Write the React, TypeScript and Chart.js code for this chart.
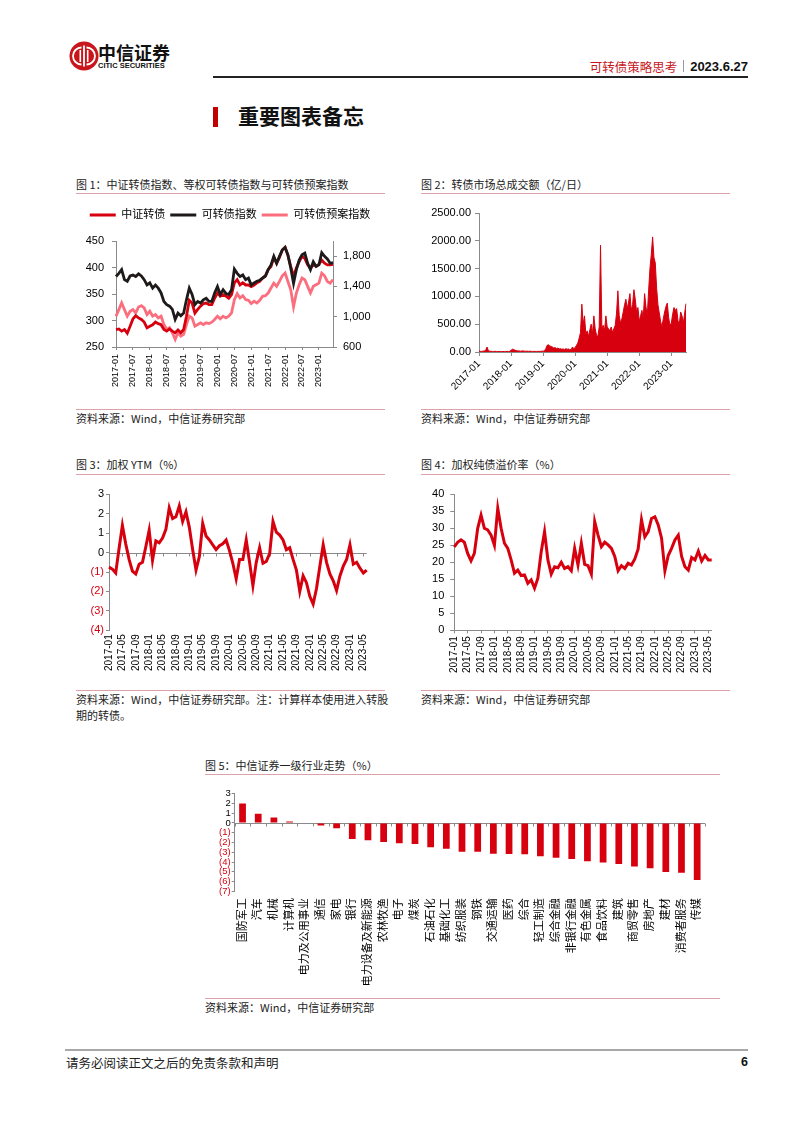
import React, { useEffect, useRef } from 'react';
import { Chart, registerables } from 'chart.js';

Chart.register(...registerables);

const FONT = "'Liberation Sans', 'Noto Sans CJK SC', sans-serif";
const CJK = "'Noto Sans CJK SC', 'Liberation Sans', sans-serif";
const RED = '#d7000f';
const BLACK = '#1f1a1a';
const PINK = '#fb6e7e';
const AXIS = '#8a8a8a';
const RULE = '#dba2a9';

Chart.defaults.font.family = FONT;
Chart.defaults.color = '#000';

// ---------- categories ----------
const MONTHS: string[] = [];
for (let y = 2017; y <= 2023; y++) {
  for (let m = 1; m <= 12; m++) {
    if (y === 2023 && m > 6) break;
    MONTHS.push(`${y}-${String(m).padStart(2, '0')}`);
  }
}
const HALF_MONTHS: string[] = MONTHS.flatMap((m) => [`${m}-01`, `${m}-16`]);

const FIG1_TICKS = ['2017-01', '2017-07', '2018-01', '2018-07', '2019-01', '2019-07', '2020-01', '2020-07', '2021-01', '2021-07', '2022-01', '2022-07', '2023-01'];
const FIG2_TICKS = ['2017-01', '2018-01', '2019-01', '2020-01', '2021-01', '2022-01', '2023-01'];
const FIG34_TICKS = ['2017-01', '2017-05', '2017-09', '2018-01', '2018-05', '2018-09', '2019-01', '2019-05', '2019-09', '2020-01', '2020-05', '2020-09', '2021-01', '2021-05', '2021-09', '2022-01', '2022-05', '2022-09', '2023-01', '2023-05'];

// ---------- figure 1 ----------
const CSI_CB = [
  283, 284, 280, 283, 276, 289, 303, 309, 305, 302, 297, 286,
  289, 292, 297, 294, 292, 283, 280, 284, 280, 277, 282, 277,
  283, 308, 338, 333, 314, 321, 327, 332, 333, 330, 330, 342,
  352, 346, 349, 346, 342, 349, 371, 377, 367, 371, 367, 367,
  364, 367, 371, 374, 380, 384, 396, 402, 419, 408, 419, 433,
  438, 423, 402, 383, 399, 411, 421, 417, 405, 399, 405, 402,
  406, 414, 408, 405, 405, 406,
];
const EQ_CB = [
  383, 389, 396, 377, 374, 384, 386, 383, 388, 384, 377, 367,
  371, 361, 367, 361, 352, 336, 330, 327, 321, 302, 314, 309,
  314, 339, 361, 349, 330, 336, 333, 339, 342, 336, 336, 352,
  364, 349, 358, 351, 349, 358, 397, 389, 383, 386, 377, 380,
  367, 371, 374, 376, 380, 384, 396, 405, 421, 408, 421, 433,
  438, 424, 399, 370, 396, 414, 424, 427, 408, 396, 411, 402,
  405, 428, 421, 416, 408, 409,
];
const PLAN_CB = [
  1007, 1094, 1182, 1094, 1007, 1072, 1094, 1051, 1129, 1147, 1116, 1029,
  1072, 1007, 1029, 985, 1007, 897, 832, 854, 788, 700, 788, 744,
  766, 897, 1007, 985, 876, 897, 919, 897, 919, 910, 928, 963,
  1007, 972, 1007, 985, 1007, 1051, 1226, 1304, 1248, 1278, 1226, 1217,
  1173, 1204, 1182, 1217, 1269, 1278, 1313, 1379, 1444, 1401, 1466, 1541,
  1576, 1466, 1357, 1130, 1313, 1422, 1510, 1488, 1401, 1313, 1401, 1422,
  1444, 1576, 1541, 1466, 1444, 1490,
];

// ---------- figure 2 (semi-monthly turnover, 亿元/日) ----------
const TURNOVER = [
  15, 12, 10, 15, 20, 30, 90, 25, 15, 12, 10, 10, 12, 10, 10, 8, 10, 8, 8, 10, 10, 8, 10, 12,
  30, 50, 45, 30, 25, 20, 20, 15, 18, 20, 15, 15, 15, 12, 15, 12, 10, 12, 10, 10, 12, 10, 12, 15,
  15, 20, 60, 120, 130, 110, 100, 90, 70, 80, 60, 70, 55, 60, 50, 55, 45, 60, 50, 55, 40, 45, 90, 60,
  80, 120, 160, 250, 350, 860, 500, 650, 320, 380, 280, 400, 500, 330, 650, 420, 300, 280, 450, 1920, 420, 480, 380, 650,
  450, 420, 380, 450, 350, 420, 480, 700, 1100, 650, 520, 600, 720, 850, 950, 780, 900, 1050, 750, 850, 1120, 950, 720, 800,
  550, 650, 750, 600, 1050, 820, 650, 1100, 1500, 1750, 2070, 1700, 1600, 1150, 850, 700, 550, 450, 600, 720, 820, 880, 620, 480,
  520, 680, 800, 750, 780, 560, 500, 720, 650, 520, 700, 870,
];

// ---------- figure 3 ----------
const YTM = [
  -0.75, -0.85, -1.05, 0.2, 1.4, 0.45, -0.35, -0.95, -1.1, -0.6, -0.5, 0.3,
  1.15, -0.4, 0.6, 0.5, 0.75, 1.2, 2.3, 1.75, 1.85, 2.4, 1.6, 2.1,
  1.3, 0.15, -0.9, -0.2, 1.5, 0.85, 0.65, 0.4, 0.15, 0.35, 0.45, 0.65,
  0.1, -0.55, -1.35, -0.35, -0.35, 0.65, -0.5, -1.7, -0.5, 0.25, -0.55, -0.45,
  -0.05, 1.6, 1.05, 0.9, 0.65, 0.15, 0.25, -0.35, -0.9, -2.0, -1.2, -1.55,
  -2.25, -2.65, -1.85, -0.7, 0.4, -0.5, -1.1, -1.45, -1.95, -1.2, -0.7, -0.35,
  0.4, -0.6, -0.5, -0.8, -1.05, -0.9,
];

// ---------- figure 4 ----------
const BOND_PREMIUM = [
  24.5, 25.9, 26.6, 25.9, 22.6, 20.4, 22.6, 30.0, 33.9, 30.0, 29.5, 28.0,
  25.0, 35.9, 30.0, 25.6, 24.1, 20.7, 16.8, 17.7, 16.1, 16.3, 13.8, 14.8,
  12.4, 15.3, 23.1, 29.0, 20.7, 16.5, 18.7, 18.4, 20.0, 18.2, 18.7, 17.5,
  24.1, 19.2, 25.6, 19.4, 19.0, 16.5, 32.0, 28.0, 24.6, 25.9, 25.1, 24.1,
  21.7, 17.5, 19.0, 18.2, 19.7, 19.2, 21.0, 23.9, 32.5, 27.5, 29.0, 32.9,
  33.4, 31.0, 27.1, 17.5, 22.0, 24.1, 26.6, 28.0, 21.7, 18.7, 17.7, 21.4,
  20.7, 23.3, 20.4, 22.0, 20.7, 20.7,
];

// ---------- figure 5 ----------
const INDUSTRIES = ['国防军工', '汽车', '机械', '计算机', '电力及公用事业', '通信', '家电', '银行', '电力设备及新能源', '农林牧渔', '电子', '煤炭', '石油石化', '基础化工', '纺织服装', '钢铁', '交通运输', '医药', '综合', '轻工制造', '综合金融', '非银行金融', '有色金属', '食品饮料', '建筑', '商贸零售', '房地产', '建材', '消费者服务', '传媒'];
const INDUSTRY_RET = [2.0, 0.95, 0.55, 0.15, 0.05, -0.27, -0.55, -1.64, -1.77, -1.95, -2.08, -2.15, -2.49, -2.63, -2.94, -2.94, -3.14, -3.17, -3.2, -3.41, -3.55, -3.69, -3.92, -4.06, -4.2, -4.47, -4.64, -5.02, -5.09, -5.84];

// ---------- helpers ----------
const negFmt = (v: any) => (Number(v) < 0 ? `(${-Number(v)})` : `${v}`);
const negColor = (ctx: any) => (ctx.tick && ctx.tick.value < 0 ? RED : '#000');

function zeroLine(mode: 'labels' | 'between') {
  return {
    id: 'zeroLine',
    beforeDatasetsDraw(chart: any) {
      const { ctx, chartArea, scales } = chart;
      const x = scales.x;
      const y0 = Math.round(scales.y.getPixelForValue(0)) + 0.5;
      ctx.save();
      ctx.strokeStyle = AXIS;
      ctx.lineWidth = 1;
      ctx.beginPath();
      ctx.moveTo(chartArea.left, y0);
      ctx.lineTo(chartArea.right, y0);
      const n = x.ticks.length;
      if (mode === 'labels') {
        x.ticks.forEach((t: any, i: number) => {
          if (t.label) {
            const px = Math.round(x.getPixelForTick(i)) + 0.5;
            ctx.moveTo(px, y0);
            ctx.lineTo(px, y0 + 3);
          }
        });
      } else {
        for (let i = 0; i <= n; i++) {
          const p = i === 0 ? chartArea.left : i === n ? chartArea.right : (x.getPixelForTick(i - 1) + x.getPixelForTick(i)) / 2;
          const px = Math.round(p) + 0.5;
          ctx.moveTo(px, y0);
          ctx.lineTo(px, y0 + 3);
        }
      }
      ctx.stroke();
      ctx.restore();
    },
  };
}

const base = {
  animation: false,
  responsive: false,
  maintainAspectRatio: false,
  events: [],
  elements: { point: { radius: 0 }, line: { tension: 0 } },
};

function fig1Config(): any {
  return {
    type: 'line',
    data: {
      labels: MONTHS,
      datasets: [
        { label: '中证转债', data: CSI_CB, borderColor: RED, backgroundColor: RED, borderWidth: 2.8, yAxisID: 'y', order: 1 },
        { label: '可转债指数', data: EQ_CB, borderColor: BLACK, backgroundColor: BLACK, borderWidth: 2.8, yAxisID: 'y', order: 0 },
        { label: '可转债预案指数', data: PLAN_CB, borderColor: PINK, backgroundColor: PINK, borderWidth: 2.8, yAxisID: 'y2', order: 2 },
      ],
    },
    options: {
      ...base,
      layout: { padding: { top: 4.5, left: 0, right: 0, bottom: 0 } },
      plugins: {
        tooltip: { enabled: false },
        legend: {
          display: true,
          position: 'top',
          labels: {
            boxWidth: 26,
            boxHeight: 3,
            padding: 5,
            color: '#000',
            font: { size: 11 },
            sort: (a: any, b: any) => a.datasetIndex - b.datasetIndex,
            generateLabels: (chart: any) =>
              (Chart.defaults.plugins.legend.labels as any).generateLabels(chart).map((l: any) => ({ ...l, lineWidth: 0 })),
          },
        },
        title: { display: true, text: ' ', position: 'top', weight: 500, font: { size: 1, lineHeight: 1 }, padding: { top: 9.5, bottom: 0 } },
      },
      scales: {
        x: {
          offset: false,
          grid: { drawOnChartArea: false, tickLength: 3, color: AXIS },
          border: { color: AXIS },
          ticks: {
            autoSkip: false, minRotation: 90, maxRotation: 90, padding: 4, font: { size: 9 }, color: '#000',
            callback: (_v: any, i: number) => (FIG1_TICKS.includes(MONTHS[i]) ? MONTHS[i] : null),
          },
          afterFit: (s: any) => { s.height = 58; },
        },
        y: {
          position: 'left', min: 250, max: 450,
          ticks: { stepSize: 50, padding: 8, font: { size: 11 }, color: '#000' },
          grid: { drawOnChartArea: false, tickLength: 4, color: AXIS },
          border: { color: AXIS },
          afterFit: (s: any) => { s.width = 46; },
        },
        y2: {
          position: 'right', min: 600, max: 2000,
          ticks: { stepSize: 200, padding: 6, font: { size: 11 }, color: '#000' },
          grid: { drawOnChartArea: false, tickLength: 4, color: AXIS },
          border: { color: AXIS },
          afterFit: (s: any) => { s.width = 57; },
        },
      },
    },
  };
}

function fig2Config(): any {
  return {
    type: 'line',
    data: {
      labels: HALF_MONTHS,
      datasets: [{ data: TURNOVER, borderColor: RED, backgroundColor: RED, borderWidth: 1, fill: 'origin' }],
    },
    options: {
      ...base,
      layout: { padding: { top: 13, right: 44, left: 0, bottom: 0 } },
      plugins: { legend: { display: false }, tooltip: { enabled: false } },
      scales: {
        x: {
          offset: false,
          grid: { drawOnChartArea: false, tickLength: 4, color: AXIS },
          border: { color: AXIS },
          ticks: {
            autoSkip: false, minRotation: 45, maxRotation: 45, padding: 2, font: { size: 10 }, color: '#000',
            callback: (_v: any, i: number) => {
              const d = HALF_MONTHS[i];
              return d.endsWith('-01') && FIG2_TICKS.includes(d.slice(0, 7)) ? d.slice(0, 7) : null;
            },
          },
          afterFit: (s: any) => { s.height = 53; },
        },
        y: {
          min: 0, max: 2500,
          ticks: { stepSize: 500, padding: 4, font: { size: 11 }, color: '#000', callback: (v: any) => Number(v).toFixed(2) },
          grid: { drawOnChartArea: false, tickLength: 4, color: AXIS },
          border: { color: AXIS },
          afterFit: (s: any) => { s.width = 69; },
        },
      },
    },
  };
}

function fig3Config(): any {
  return {
    type: 'line',
    data: { labels: MONTHS, datasets: [{ data: YTM, borderColor: RED, borderWidth: 3 }] },
    options: {
      ...base,
      layout: { padding: { top: 14.3, right: 23.3, left: 0, bottom: 0 } },
      plugins: { legend: { display: false }, tooltip: { enabled: false } },
      scales: {
        x: {
          offset: false,
          grid: { display: false, drawTicks: false },
          border: { display: false },
          ticks: {
            autoSkip: false, minRotation: 90, maxRotation: 90, padding: 4, font: { size: 10 }, color: '#000',
            callback: (_v: any, i: number) => (FIG34_TICKS.includes(MONTHS[i]) ? MONTHS[i] : null),
          },
          afterFit: (s: any) => { s.height = 54.7; },
        },
        y: {
          min: -4, max: 3,
          ticks: { stepSize: 1, autoSkip: false, padding: 2, font: { size: 11 }, color: negColor, callback: negFmt },
          grid: { drawOnChartArea: false, tickLength: 3, color: AXIS },
          border: { color: AXIS },
          afterFit: (s: any) => { s.width = 39; },
        },
      },
    },
    plugins: [zeroLine('labels')],
  };
}

function fig4Config(): any {
  return {
    type: 'line',
    data: { labels: MONTHS, datasets: [{ data: BOND_PREMIUM, borderColor: RED, borderWidth: 3 }] },
    options: {
      ...base,
      layout: { padding: { top: 14.3, right: 18.3, left: 0, bottom: 0 } },
      plugins: { legend: { display: false }, tooltip: { enabled: false } },
      scales: {
        x: {
          offset: false,
          grid: { drawOnChartArea: false, tickLength: 3, color: AXIS },
          border: { color: AXIS },
          ticks: {
            autoSkip: false, minRotation: 90, maxRotation: 90, padding: 3, font: { size: 10 }, color: '#000',
            callback: (_v: any, i: number) => (FIG34_TICKS.includes(MONTHS[i]) ? MONTHS[i] : null),
          },
          afterFit: (s: any) => { s.height = 54.7; },
        },
        y: {
          min: 0, max: 40,
          ticks: { stepSize: 5, autoSkip: false, padding: 6, font: { size: 11 }, color: '#000' },
          grid: { drawOnChartArea: false, tickLength: 4, color: AXIS },
          border: { color: AXIS },
          afterFit: (s: any) => { s.width = 44.3; },
        },
      },
    },
  };
}

function fig5Config(): any {
  return {
    type: 'bar',
    data: {
      labels: INDUSTRIES,
      datasets: [{ data: INDUSTRY_RET, backgroundColor: RED, barPercentage: 0.43, categoryPercentage: 1 }],
    },
    options: {
      ...base,
      layout: { padding: { top: 13.7, right: 15, left: 0, bottom: 0 } },
      plugins: { legend: { display: false }, tooltip: { enabled: false } },
      scales: {
        x: {
          grid: { display: false, drawTicks: false },
          border: { display: false },
          ticks: { autoSkip: false, minRotation: 90, maxRotation: 90, padding: 7, font: { size: 11 }, color: '#000' },
          afterFit: (s: any) => { s.height = 103.7; },
        },
        y: {
          min: -7, max: 3,
          ticks: { stepSize: 1, autoSkip: false, padding: 1, font: { size: 9.5 }, color: negColor, callback: negFmt },
          grid: { drawOnChartArea: false, tickLength: 3, color: AXIS },
          border: { color: AXIS },
          afterFit: (s: any) => { s.width = 34.7; },
        },
      },
    },
    plugins: [zeroLine('between')],
  };
}

function ChartBox({ left, top, width, height, make }: { left: number; top: number; width: number; height: number; make: () => any }) {
  const ref = useRef<HTMLCanvasElement>(null);
  useEffect(() => {
    const chart = new Chart(ref.current as HTMLCanvasElement, make());
    return () => chart.destroy();
  }, []);
  return (
    <canvas
      ref={ref}
      width={width}
      height={height}
      style={{ position: 'absolute', left, top, width, height, display: 'block' }}
    />
  );
}

function Txt({ x, y, size, children, color = '#222', bold = false, family = CJK, right = false }: any) {
  const style: any = {
    position: 'absolute',
    top: y - size * 0.75,
    fontSize: size,
    lineHeight: `${size * 1.4}px`,
    color,
    fontWeight: bold ? 700 : 400,
    fontFamily: family,
    whiteSpace: 'nowrap',
  };
  if (right) style.right = 802 - x;
  else style.left = x;
  return <div style={style}>{children}</div>;
}

function Rule({ x, y, w, h = 1, color = RULE }: any) {
  return <div style={{ position: 'absolute', left: x, top: y, width: w, height: h, background: color }} />;
}

const SOURCE = '资料来源：Wind，中信证券研究部';

export default function App() {
  return (
    <div style={{ position: 'absolute', left: 0, top: 0, width: 802, height: 1133, background: '#fff', overflow: 'hidden' }}>
      {/* header */}
      <svg width="30" height="30" viewBox="0 0 30 30" style={{ position: 'absolute', left: 69, top: 41 }}>
        <circle cx="15" cy="15" r="14.5" fill="#c8161d" />
        <path d="M12.5 6.5 A8.5 8.5 0 1 0 12.5 23.5" stroke="#fff" strokeWidth="1.8" fill="none" />
        <path d="M17.5 6.5 A8.5 8.5 0 1 1 17.5 23.5" stroke="#fff" strokeWidth="1.8" fill="none" />
        <rect x="14.1" y="4.5" width="1.8" height="21" fill="#fff" />
        <rect x="10.5" y="9" width="1.6" height="12" fill="#fff" />
        <rect x="17.9" y="9" width="1.6" height="12" fill="#fff" />
      </svg>
      <Txt x={98} y={53} size={18} bold color="#111">中信证券</Txt>
      <Txt x={98} y={67} size={7.5} bold color="#111" family={FONT}>CITIC SECURITIES</Txt>
      <div style={{ position: 'absolute', right: 802 - 748, top: 57, display: 'flex', alignItems: 'center', whiteSpace: 'nowrap', height: 18 }}>
        <span style={{ fontFamily: CJK, fontSize: 12.5, color: '#c8161d' }}>可转债策略思考</span>
        <span style={{ display: 'inline-block', width: 1, height: 12, background: '#999', margin: '0 6px' }} />
        <span style={{ fontFamily: FONT, fontSize: 13, fontWeight: 700, color: '#111' }}>2023.6.27</span>
      </div>
      <Rule x={213} y={76} w={535} h={2} color="#222" />

      {/* section heading */}
      <div style={{ position: 'absolute', left: 213, top: 107, width: 5, height: 20, background: '#c00000' }} />
      <Txt x={238} y={117} size={21} bold color="#111">重要图表备忘</Txt>

      {/* figure 1 */}
      <Txt x={76} y={185} size={11}>图 1：中证转债指数、等权可转债指数与可转债预案指数</Txt>
      <Rule x={76} y={193} w={309} />
      <ChartBox left={70} top={200} width={320} height={205} make={fig1Config} />
      <Rule x={76} y={409} w={309} />
      <Txt x={76} y={419} size={11}>{SOURCE}</Txt>

      {/* figure 2 */}
      <Txt x={421} y={185} size={11}>图 2：转债市场总成交额（亿/日）</Txt>
      <Rule x={421} y={193} w={309} />
      <ChartBox left={410} top={200} width={320} height={205} make={fig2Config} />
      <Rule x={421} y={409} w={309} />
      <Txt x={421} y={419} size={11}>{SOURCE}</Txt>

      {/* figure 3 */}
      <Txt x={76} y={465} size={11}>图 3：加权 YTM（%）</Txt>
      <Rule x={76} y={474} w={309} />
      <ChartBox left={70} top={480} width={320} height={205} make={fig3Config} />
      <Rule x={76} y={690} w={309} />
      <Txt x={76} y={700} size={11}>资料来源：Wind，中信证券研究部。注：计算样本使用进入转股</Txt>
      <Txt x={76} y={716} size={11}>期的转债。</Txt>

      {/* figure 4 */}
      <Txt x={421} y={465} size={11}>图 4：加权纯债溢价率（%）</Txt>
      <Rule x={421} y={474} w={309} />
      <ChartBox left={410} top={480} width={320} height={205} make={fig4Config} />
      <Rule x={421} y={690} w={309} />
      <Txt x={421} y={700} size={11}>{SOURCE}</Txt>

      {/* figure 5 */}
      <Txt x={205} y={766} size={11}>图 5：中信证券一级行业走势（%）</Txt>
      <Rule x={205} y={774} w={515} />
      <ChartBox left={200} top={780} width={520} height={215} make={fig5Config} />
      <Rule x={205} y={998} w={515} />
      <Txt x={205} y={1008} size={11}>{SOURCE}</Txt>

      {/* footer */}
      <Rule x={65} y={1049} w={683} h={2} color="#a8a8a8" />
      <Txt x={66} y={1063} size={12.5} color="#222">请务必阅读正文之后的免责条款和声明</Txt>
      <Txt x={748} y={1063} size={12.5} bold color="#111" family={FONT} right>6</Txt>
    </div>
  );
}
